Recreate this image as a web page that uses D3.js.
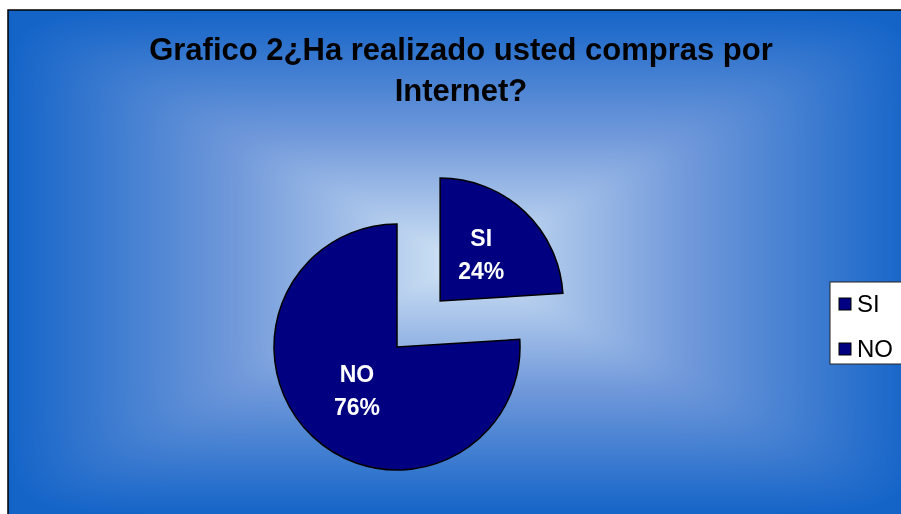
<!DOCTYPE html>
<html>
<head>
<meta charset="utf-8">
<script src="https://cdn.jsdelivr.net/npm/d3@7"></script>
<style>
  html, body { margin: 0; padding: 0; background: #ffffff; overflow: hidden; }
  #wrap { position: relative; width: 901px; height: 514px; }
  #bg, #chart { position: absolute; left: 0; top: 0; }
  svg { display: block; font-family: "Liberation Sans", Arial, sans-serif; }
</style>
</head>
<body>
<div id="wrap">
<canvas id="bg" width="901" height="514"></canvas>
<svg id="chart" width="901" height="514"></svg>
</div>
<script>
// Survey answers
const categories = ["SI", "NO"];
const values = [24, 76];
const valueLabels = ["24%", "76%"];
const titleLines = ["Grafico 2¿Ha realizado usted compras por", "Internet?"];

const W = 901, H = 514;
const svg = d3.select("#chart");

// Chart area filled with a rectangular "from centre" gradient
const area = { x0: 8, y0: 10, x1: 914, y1: 514 };
const cx = (area.x0 + area.x1) / 2, cy = (area.y0 + area.y1) / 2;
const hw = (area.x1 - area.x0) / 2, hh = (area.y1 - area.y0) / 2;
const shade = d3.scaleLinear()
  .domain([0, 0.5, 1])
  .range(["#d3e5f6", "#7199da", "#1464c8"])
  .interpolate(d3.interpolateRgb)
  .clamp(true);

const ctx = document.getElementById("bg").getContext("2d");
const img = ctx.createImageData(W, H);
for (let y = 0; y < H; y++) {
  for (let x = 0; x < W; x++) {
    const k = (y * W + x) * 4;
    if (x < area.x0 || y < area.y0) {
      img.data[k] = img.data[k + 1] = img.data[k + 2] = 255;
      img.data[k + 3] = 255;
      continue;
    }
    const u = Math.abs(x - cx) / hw, v = Math.abs(y - cy) / hh;
    // softened max-norm: rectangular spread with slightly rounded diagonals
    const t = Math.pow(Math.pow(u, 12) + Math.pow(v, 12), 1 / 12);
    const c = d3.rgb(shade(t));
    img.data[k] = c.r; img.data[k + 1] = c.g; img.data[k + 2] = c.b; img.data[k + 3] = 255;
  }
}
ctx.putImageData(img, 0, 0);

// Frame
svg.append("rect")
  .attr("x", area.x0).attr("y", area.y0)
  .attr("width", area.x1 - area.x0).attr("height", area.y1 - area.y0 + 4)
  .attr("fill", "none").attr("stroke", "#000").attr("stroke-width", 1.5);

// Title
svg.append("text")
  .attr("x", 461).attr("y", 60)
  .attr("text-anchor", "middle")
  .attr("font-size", 31).attr("font-weight", "bold").attr("fill", "#000")
  .selectAll("tspan").data(titleLines).join("tspan")
  .attr("x", 461).attr("dy", (d, i) => i === 0 ? 0 : 41)
  .text(d => d);

// Pie
const radius = 123;
const pieCenter = [397, 347];
const explode = 63;
const color = d3.scaleOrdinal().domain(categories).range(["#000080", "#000080"]);

const pie = d3.pie().sort(null).startAngle(0).endAngle(2 * Math.PI);
const arcs = pie(values).map((a, i) => ({ ...a, cat: categories[i], lab: valueLabels[i] }));
const arc = d3.arc().innerRadius(0).outerRadius(radius);
const labelArc = d3.arc().innerRadius(radius * 0.5).outerRadius(radius * 0.5);

const offsetOf = d => {
  if (d.cat !== "SI") return [0, 0];
  const mid = (d.startAngle + d.endAngle) / 2;
  return [Math.sin(mid) * explode, -Math.cos(mid) * explode];
};

const slices = svg.append("g")
  .attr("transform", `translate(${pieCenter[0]},${pieCenter[1]})`)
  .selectAll("g").data(arcs).join("g")
  .attr("transform", d => `translate(${offsetOf(d)})`);

slices.append("path")
  .attr("d", arc)
  .attr("fill", d => color(d.cat))
  .attr("stroke", "#000")
  .attr("stroke-width", 1.5)
  .attr("stroke-linejoin", "miter");

const lab = slices.append("text")
  .attr("transform", d => `translate(${labelArc.centroid(d)})`)
  .attr("text-anchor", "middle")
  .attr("font-size", 23).attr("font-weight", "bold").attr("fill", "#fff");
lab.append("tspan").attr("x", d => d.cat === "NO" ? 2 : -1).attr("y", -10).text(d => d.cat);
lab.append("tspan").attr("x", d => d.cat === "NO" ? 2 : -1).attr("y", 23).text(d => d.lab);

// Legend
const legend = svg.append("g");
legend.append("rect")
  .attr("x", 830).attr("y", 282).attr("width", 90).attr("height", 82)
  .attr("fill", "#fff").attr("stroke", "#222").attr("stroke-width", 1);
const items = legend.selectAll("g.item").data(categories).join("g")
  .attr("class", "item")
  .attr("transform", (d, i) => `translate(839,${304 + i * 45})`);
items.append("rect")
  .attr("x", 0).attr("y", -6).attr("width", 12).attr("height", 12)
  .attr("fill", d => color(d)).attr("stroke", "#000").attr("stroke-width", 1);
items.append("text")
  .attr("x", 18).attr("y", 8)
  .attr("font-size", 24).attr("fill", "#000")
  .text(d => d);
</script>
</body>
</html>
